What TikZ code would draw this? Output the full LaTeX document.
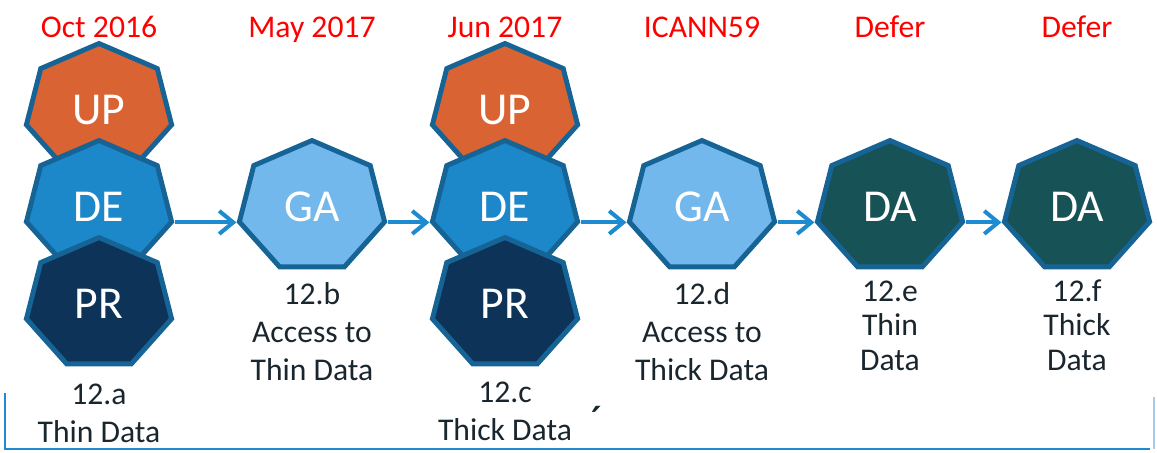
\documentclass[tikz,border=0pt]{standalone}
\usepackage{fontspec}
\setmainfont{Carlito}
\usepackage{tikz}
\usetikzlibrary{positioning}
\usetikzlibrary{shapes.geometric}
\usetikzlibrary{arrows.meta}
\usepackage{xcolor}
\definecolor{rim}{RGB}{22,100,150}
\definecolor{upc}{RGB}{218,99,52}
\definecolor{dec}{RGB}{28,135,201}
\definecolor{prc}{RGB}{14,51,89}
\definecolor{gac}{RGB}{115,184,236}
\definecolor{dac}{RGB}{23,82,86}
\definecolor{flowc}{RGB}{30,139,208}
\definecolor{ink}{RGB}{26,38,46}
\definecolor{edgec}{RGB}{165,203,232}

\begin{document}
\begin{tikzpicture}[node distance=1.94cm,on grid,
    hepta/.style={draw=rim,line width=2.8pt,regular polygon,regular polygon sides=7,
      minimum size=2.66cm,inner sep=0pt,xscale=1.12,transform shape},
    tag/.style={text=white,font=\fontsize{26}{30}\selectfont},
    date/.style={text=red,font=\fontsize{18}{21.5}\selectfont},
    note/.style={text=ink,font=\fontsize{18}{21.5}\selectfont,align=center},
    flow/.style={draw=flowc,line width=2.3pt,-{Straight Barb[length=0.28cm,width=0.46cm]}}]
  \useasboundingbox (0,0) rectangle (23.14,-9.06);
  \node[hepta,fill=upc] (up1) at (1.98,-2.2) {};
  \node[hepta,fill=dec] (de1) [below=of up1] {};
  \node[hepta,fill=prc] (pr1) [below=of de1] {};
  \node[hepta,fill=gac] (ga1) [right=4.26cm of de1] {};
  \node[hepta,fill=upc] (up2) [right=8.12cm of up1] {};
  \node[hepta,fill=dec] (de2) [right=3.86cm of ga1] {};
  \node[hepta,fill=prc] (pr2) [below=of de2] {};
  \node[hepta,fill=gac] (ga2) [right=3.94cm of de2] {};
  \node[hepta,fill=dac] (da1) [right=3.76cm of ga2] {};
  \node[hepta,fill=dac] (da2) [right=3.74cm of da1] {};
  \node[tag] (up1t) at (up1) {UP};
  \node[tag] (de1t) at (de1) {DE};
  \node[tag] (pr1t) at (pr1) {PR};
  \node[tag] (ga1t) at (ga1) {GA};
  \node[tag] (up2t) at (up2) {UP};
  \node[tag] (de2t) at (de2) {DE};
  \node[tag] (pr2t) at (pr2) {PR};
  \node[tag] (ga2t) at (ga2) {GA};
  \node[tag] (da1t) at (da1) {DA};
  \node[tag] (da2t) at (da2) {DA};
  \node[date,above=3.4cm of de1,anchor=base] (d1) {Oct 2016};
  \node[date,above=3.4cm of ga1,anchor=base] (d2) {May 2017};
  \node[date,above=3.4cm of de2,anchor=base] (d3) {Jun 2017};
  \node[date,above=3.4cm of ga2,anchor=base] (d4) {ICANN59};
  \node[date,above=3.4cm of da1,anchor=base] (d5) {Defer};
  \node[date,above=3.4cm of da2,anchor=base] (d6) {Defer};
  \node[note,below=2.76cm of pr1,anchor=base] (n1) {12.a\\Thin Data};
  \node[note,below=3.46cm of ga1,anchor=base] (n2) {12.b\\Access to\\Thin Data};
  \node[note,below=2.72cm of pr2,anchor=base] (n3) {12.c\\Thick Data};
  \node[note,below=3.46cm of ga2,anchor=base] (n4) {12.d\\Access to\\Thick Data};
  \node[note,below=3.26cm of da1,anchor=base,font=\fontsize{18}{19.5}\selectfont] (n5) {12.e\\Thin\\Data};
  \node[note,below=3.26cm of da2,anchor=base,font=\fontsize{18}{19.5}\selectfont] (n6) {12.f\\Thick\\Data};
  \node[text=ink,font=\fontsize{26}{26}\selectfont,inner sep=0pt,text depth=0pt,anchor=base] (acc) at (11.95,-8.74) {´};
  \draw[flow] (de1.corner 6) -- (ga1.corner 3);
  \draw[flow] (ga1.corner 6) -- (de2.corner 3);
  \draw[flow] (de2.corner 6) -- (ga2.corner 3);
  \draw[flow] (ga2.corner 6) -- (da1.corner 3);
  \draw[flow] (da1.corner 6) -- (da2.corner 3);
  \coordinate (bl) at (0.1,-7.86);
  \coordinate (bc) at (0.1,-8.98);
  \coordinate (br) at (23.0,-8.98);
  \coordinate (rt) at (23.08,-7.94);
  \coordinate (rb) at (23.08,-8.98);
  \draw[flowc,line width=1.7pt] (bl) -- (bc) -- (br);
  \draw[edgec,line width=1pt] (rt) -- (rb);
\end{tikzpicture}
\end{document}
